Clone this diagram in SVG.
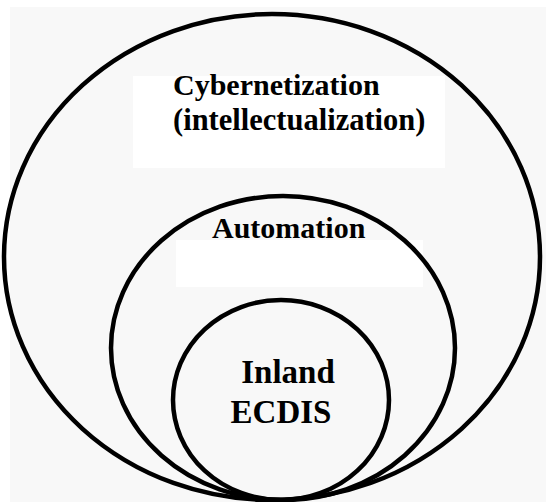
<svg xmlns="http://www.w3.org/2000/svg" width="546" height="502" viewBox="0 0 546 502">
  <style>
    .ring { fill: none; stroke: #000; stroke-width: 4.5; }
    .lbl { font-family: "Liberation Serif", "Times New Roman", serif; font-weight: bold; fill: #000; }
    .pad { fill: #fff; }
  </style>
  <rect x="0" y="0" width="546" height="502" fill="#fff"/>
  <rect x="10" y="7" width="536" height="495" fill="#f8f8f8"/>

  <!-- white label pads sit under the rings -->
  <rect class="pad" x="133" y="76" width="312" height="92"/>
  <rect class="pad" x="176" y="240" width="247" height="47"/>

  <g id="cybernetization">
    <ellipse class="ring" cx="272" cy="257" rx="268" ry="243"/>
    <text class="lbl" font-size="30" x="173" y="95">Cybernetization</text>
    <text class="lbl" font-size="30.5" x="173" y="130">(intellectualization)</text>
  </g>

  <g id="automation">
    <ellipse class="ring" cx="283" cy="348" rx="172" ry="152"/>
    <text class="lbl" font-size="30" x="212" y="238">Automation</text>
  </g>

  <g id="inland-ecdis">
    <ellipse class="ring" cx="281" cy="400" rx="108" ry="100"/>
    <text class="lbl" font-size="33" x="288" y="383" text-anchor="middle">Inland</text>
    <text class="lbl" font-size="33" x="281" y="423" text-anchor="middle">ECDIS</text>
  </g>
</svg>
